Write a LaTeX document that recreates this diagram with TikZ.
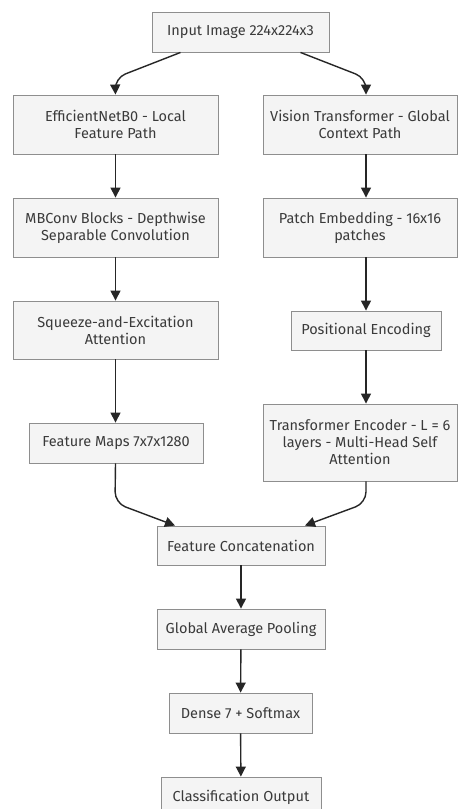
\documentclass[tikz,border=0pt]{standalone}
\usepackage{fontspec}
\setmainfont{Fira Sans}
\usetikzlibrary{arrows.meta,shadows}
\definecolor{boxfill}{HTML}{F4F4F4}
\definecolor{boxline}{HTML}{8E8E8E}
\definecolor{txt}{HTML}{3A3A3A}
\tikzset{
  box/.style={draw=boxline, line width=0.9pt, fill=boxfill, align=center, text=txt,
    font=\fontsize{14.5}{17}\selectfont, inner sep=0pt, anchor=center,
    drop shadow={opacity=0.12, shadow xshift=1.2pt, shadow yshift=-1.2pt}},
  conn/.style={draw=black!85, line width=1.4pt, -{Triangle[width=10pt,length=10pt]}, rounded corners=11pt}
}
\begin{document}
\begin{tikzpicture}[x=1pt,y=-1pt]
\useasboundingbox (0,0) rectangle (459,809);
\clip (0,0) rectangle (459,809);
\fill[white] (0,0) rectangle (459,809);
\node[box, minimum width=177pt, minimum height=40pt] (in) at (240.5,32) {Input Image 224x224x3};
\node[box, minimum width=205pt, minimum height=59pt] (eff) at (115.5,124.5) {EfficientNetB0 - Local\\Feature Path};
\node[box, minimum width=205pt, minimum height=59pt] (mb) at (115.5,227.5) {MBConv Blocks - Depthwise\\Separable Convolution};
\node[box, minimum width=205pt, minimum height=58pt] (se) at (115.5,330) {Squeeze-and-Excitation\\Attention};
\node[box, minimum width=174pt, minimum height=40pt] (fm) at (116,443) {Feature Maps 7x7x1280};
\node[box, minimum width=194pt, minimum height=59pt] (vit) at (360,124.5) {Vision Transformer - Global\\Context Path};
\node[box, minimum width=194pt, minimum height=59pt] (pe) at (360,227.5) {Patch Embedding - 16x16\\patches};
\node[box, minimum width=150pt, minimum height=39pt] (pos) at (366,330.5) {Positional Encoding};
\node[box, minimum width=194pt, minimum height=77pt] (te) at (360,442.5) {Transformer Encoder - L = 6\\layers - Multi-Head Self\\Attention};
\node[box, minimum width=168pt, minimum height=39pt] (cat) at (241,545.5) {Feature Concatenation};
\node[box, minimum width=168pt, minimum height=40pt] (gap) at (241,629) {Global Average Pooling};
\node[box, minimum width=143pt, minimum height=40pt] (dense) at (240.5,713) {Dense 7 + Softmax};
\node[box, minimum width=160pt, minimum height=40pt] (cls) at (241,797) {Classification Output};

\draw[conn] ([xshift=-60pt]in.south) -- (115,78) -- (eff.north);
\draw[conn] ([xshift=60pt]in.south) -- (366,78) -- ([xshift=6pt]vit.north);
\draw[conn] (eff) -- (mb);
\draw[conn] (mb) -- (se);
\draw[conn] (se.south) -- (fm.north -| se.south);
\draw[conn] ([xshift=6pt]vit.south) -- ([xshift=6pt]pe.north);
\draw[conn] ([xshift=6pt]pe.south) -- (pos.north);
\draw[conn] (pos.south) -- ([xshift=6pt]te.north);
\draw[conn] (fm.south -| eff.south) -- (115,503) -- ([xshift=-66pt]cat.north);
\draw[conn] ([xshift=6pt]te.south) -- (366,503) -- ([xshift=64pt]cat.north);
\draw[conn] (cat) -- (gap);
\draw[conn] (gap) -- (dense);
\draw[conn] (dense) -- (cls);
\end{tikzpicture}
\end{document}
